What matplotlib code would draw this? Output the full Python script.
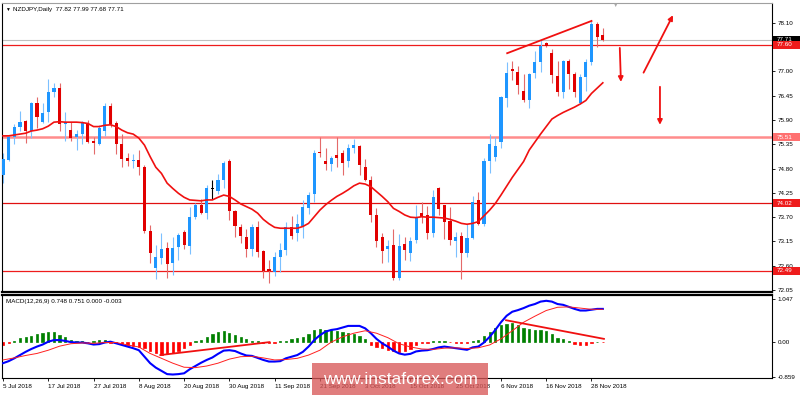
import matplotlib
matplotlib.use("Agg")
import matplotlib.pyplot as plt
import matplotlib.transforms as mtransforms
from matplotlib.patches import Rectangle
import numpy as np

plt.rcParams['font.family'] = ['Liberation Sans', 'DejaVu Sans']

# daily NZDJPY candles, 5 Jul 2018 .. 30 Nov 2018
opens = [74.66, 75.00, 75.51, 75.75, 75.88, 75.65, 76.29, 75.85, 76.07, 76.53,
         76.62, 75.80, 75.67, 75.52, 75.58, 75.82, 75.43, 75.36, 75.64, 76.22,
         75.84, 75.36, 75.03, 74.98, 74.99, 74.84, 73.39, 72.56, 72.77, 73.00,
         72.66, 73.03, 73.37, 73.05, 73.71, 73.98, 73.80, 74.34, 74.30, 74.54,
         74.96, 73.83, 73.47, 73.26, 72.99, 73.47, 72.94, 72.52, 72.47, 72.81,
         72.96, 73.47, 73.35, 73.50, 73.90, 74.22, 75.18, 74.96, 74.90, 75.10,
         75.15, 74.96, 75.26, 75.30, 74.84, 74.55, 73.74, 73.26, 72.99, 73.07,
         72.32, 73.09, 72.88, 73.18, 73.79, 73.75, 73.34, 74.37, 73.97, 73.61,
         73.15, 73.28, 72.90, 73.22, 74.09, 73.55, 74.96, 75.06, 75.39, 76.39,
         77.05, 76.99, 76.56, 76.35, 76.97, 77.22, 77.63, 77.41, 76.89, 76.54,
         77.23, 76.93, 76.29, 76.88, 77.22, 78.07, 77.82]
highs = [75.15, 75.56, 75.81, 76.10, 75.91, 76.31, 76.41, 76.28, 76.83, 76.73,
         76.73, 76.07, 75.86, 75.67, 75.88, 75.90, 75.51, 75.79, 76.28, 76.28,
         75.88, 75.58, 75.15, 75.13, 75.21, 74.88, 73.53, 73.07, 73.34, 73.13,
         73.25, 73.35, 73.40, 73.94, 74.03, 74.11, 74.43, 74.54, 74.68, 74.96,
         75.01, 73.86, 73.55, 73.43, 73.55, 73.61, 72.96, 72.72, 72.92, 73.11,
         73.59, 73.73, 73.77, 74.09, 74.28, 75.22, 75.51, 75.26, 75.09, 75.51,
         75.22, 75.35, 75.46, 75.33, 75.01, 74.63, 73.90, 73.34, 73.18, 73.43,
         73.32, 73.26, 73.26, 73.98, 74.05, 73.95, 74.32, 74.39, 73.98, 73.92,
         73.37, 73.36, 73.55, 74.17, 74.27, 75.03, 75.58, 75.51, 76.44, 77.22,
         77.24, 77.12, 76.94, 76.96, 77.45, 77.71, 77.67, 77.50, 77.23, 77.26,
         77.29, 76.99, 76.94, 77.29, 78.15, 78.11, 77.99]
lows = [74.48, 74.96, 75.36, 75.64, 75.37, 75.50, 75.71, 75.82, 75.86, 76.43,
        75.66, 75.43, 75.43, 75.22, 75.36, 75.37, 75.13, 75.33, 75.54, 75.75,
        75.12, 74.84, 74.86, 74.81, 74.66, 73.35, 72.67, 72.30, 72.64, 72.32,
        72.39, 72.73, 72.97, 72.86, 73.65, 73.77, 73.67, 74.11, 74.23, 74.35,
        73.64, 73.26, 73.11, 72.79, 72.82, 72.79, 72.32, 72.21, 72.36, 72.45,
        72.84, 73.21, 73.15, 73.22, 73.77, 74.05, 75.07, 74.77, 74.75, 74.84,
        74.66, 74.83, 75.16, 74.66, 74.51, 73.60, 73.02, 72.67, 72.69, 72.28,
        72.28, 72.72, 72.70, 73.11, 73.56, 73.20, 73.26, 73.75, 73.20, 73.07,
        72.79, 72.31, 72.79, 73.20, 73.52, 73.50, 74.71, 74.98, 75.26, 76.20,
        76.80, 76.49, 76.31, 76.18, 76.84, 76.99, 77.54, 76.74, 76.44, 76.39,
        76.60, 76.41, 76.25, 76.56, 77.14, 77.56, 77.68]
closes = [75.01, 75.51, 75.75, 75.85, 75.66, 76.29, 75.96, 76.05, 76.53, 76.62,
          75.80, 75.85, 75.50, 75.58, 75.82, 75.41, 75.37, 75.71, 76.22, 75.81,
          75.35, 75.01, 74.96, 74.99, 74.83, 73.39, 72.90, 72.79, 72.99, 72.63,
          73.00, 73.30, 73.07, 73.70, 73.98, 73.79, 74.35, 74.34, 74.53, 74.92,
          73.83, 73.50, 73.28, 72.99, 73.47, 72.92, 72.49, 72.48, 72.79, 72.96,
          73.47, 73.28, 73.54, 73.92, 74.20, 75.15, 75.16, 74.91, 75.03, 75.03,
          74.92, 75.26, 75.33, 74.87, 74.54, 73.74, 73.15, 72.94, 73.05, 72.32,
          73.05, 72.96, 73.16, 73.70, 73.70, 73.35, 74.15, 73.88, 73.60, 73.18,
          73.26, 72.90, 73.22, 74.04, 73.55, 74.97, 75.36, 75.31, 76.41, 76.96,
          77.01, 76.69, 76.34, 76.93, 77.20, 77.58, 77.57, 76.92, 76.53, 77.23,
          76.93, 76.54, 76.88, 77.22, 78.07, 77.78, 77.71]
ma = [75.54, 75.54, 75.56, 75.58, 75.60, 75.65, 75.67, 75.70, 75.76, 75.85,
      75.86, 75.85, 75.85, 75.85, 75.84, 75.82, 75.75, 75.75, 75.78, 75.79,
      75.75, 75.67, 75.61, 75.58, 75.49, 75.33, 75.07, 74.83, 74.69, 74.47,
      74.35, 74.24, 74.15, 74.09, 74.08, 74.07, 74.09, 74.09, 74.15, 74.20,
      74.17, 74.09, 74.00, 73.94, 73.88, 73.79, 73.65, 73.55, 73.47, 73.45,
      73.45, 73.45, 73.45, 73.49, 73.56, 73.71, 73.86, 73.98, 74.08, 74.17,
      74.24, 74.32, 74.41, 74.47, 74.45, 74.39, 74.28, 74.17, 74.05, 73.90,
      73.83, 73.75, 73.70, 73.69, 73.71, 73.70, 73.70, 73.69, 73.68, 73.65,
      73.61, 73.56, 73.54, 73.56, 73.60, 73.73, 73.86, 74.01, 74.20, 74.40,
      74.60, 74.78, 74.96, 75.22, 75.40, 75.58, 75.75, 75.92, 76.00, 76.07,
      76.13, 76.19, 76.26, 76.34, 76.50, 76.62, 76.74]

# MACD(12,26,9) panel
hist = [-0.08, -0.02, 0.02, 0.08, 0.11, 0.14, 0.19, 0.21, 0.23, 0.23,
        0.16, 0.11, 0.04, 0.02, 0.01, -0.01, 0.01, 0.04, 0.04, -0.02,
        -0.04, -0.06, -0.08, -0.10, -0.12, -0.16, -0.22, -0.27, -0.33, -0.30,
        -0.27, -0.22, -0.16, -0.08, 0.01, 0.04, 0.11, 0.18, 0.23, 0.26,
        0.22, 0.16, 0.11, 0.06, 0.02, 0.01, -0.03, -0.04, -0.02, 0.01,
        0.02, 0.06, 0.08, 0.12, 0.19, 0.29, 0.31, 0.30, 0.29, 0.27,
        0.25, 0.22, 0.18, 0.14, 0.06, -0.08, -0.12, -0.16, -0.21, -0.23,
        -0.25, -0.22, -0.18, -0.08, -0.03, -0.02, 0.02, 0.02, 0.01, -0.01,
        -0.02, -0.03, -0.02, 0.01, 0.03, 0.15, 0.23, 0.33, 0.41, 0.44,
        0.45, 0.42, 0.35, 0.31, 0.30, 0.29, 0.26, 0.19, 0.09, 0.06,
        0.01, -0.06, -0.07, -0.07, -0.02, 0.00, -0.003]
macd_line = [-0.53, -0.48, -0.41, -0.33, -0.25, -0.18, -0.12, -0.07, 0.00, 0.04,
             0.04, 0.02, -0.01, -0.02, -0.02, -0.04, -0.07, -0.06, -0.02, 0.00,
             -0.04, -0.08, -0.12, -0.16, -0.21, -0.37, -0.53, -0.64, -0.72, -0.80,
             -0.81, -0.80, -0.78, -0.68, -0.60, -0.52, -0.45, -0.39, -0.30, -0.22,
             -0.21, -0.23, -0.29, -0.34, -0.35, -0.40, -0.45, -0.49, -0.49, -0.48,
             -0.41, -0.37, -0.33, -0.25, -0.12, 0.04, 0.16, 0.25, 0.29, 0.31,
             0.35, 0.39, 0.39, 0.39, 0.33, 0.21, 0.07, -0.04, -0.12, -0.22,
             -0.29, -0.32, -0.30, -0.24, -0.22, -0.21, -0.18, -0.14, -0.12, -0.14,
             -0.16, -0.18, -0.20, -0.14, -0.12, -0.02, 0.12, 0.29, 0.48, 0.64,
             0.74, 0.78, 0.83, 0.89, 0.93, 0.99, 1.01, 0.99, 0.93, 0.91,
             0.86, 0.81, 0.77, 0.77, 0.79, 0.81, 0.81]
signal_idx = list(range(0, 107, 2))
signal_line = [-0.45, -0.40, -0.34, -0.29, -0.21, -0.11, -0.05, -0.03, -0.04, -0.02,
               -0.02, -0.08, -0.13, -0.29, -0.41, -0.53, -0.63, -0.64, -0.60, -0.53,
               -0.43, -0.37, -0.36, -0.40, -0.45, -0.44, -0.41, -0.33, -0.21, -0.01,
               0.12, 0.21, 0.27, 0.21, 0.10, -0.05, -0.13, -0.18, -0.19, -0.16,
               -0.15, -0.17, -0.15, -0.08, 0.07, 0.27, 0.48, 0.63, 0.77, 0.85,
               0.86, 0.83, 0.80, 0.80]

date_idx = [0, 8, 16, 24, 32, 40, 48, 56, 64, 72, 80, 88, 96, 104]
date_labels = ["5 Jul 2018", "17 Jul 2018", "27 Jul 2018", "8 Aug 2018", "20 Aug 2018",
               "30 Aug 2018", "11 Sep 2018", "21 Sep 2018", "3 Oct 2018", "15 Oct 2018",
               "25 Oct 2018", "6 Nov 2018", "16 Nov 2018", "28 Nov 2018"]
price_ticks = [72.05, 72.60, 73.15, 73.70, 74.25, 74.80, 75.35, 75.90, 76.45, 77.00, 77.55, 78.10]

# horizontal levels drawn by the analyst
levels = [77.60, 75.51, 74.02, 72.49]
level_colors = ['#ee1c1c', '#ff8c8c', '#e01010', '#ee1c1c']
level_widths = [0.9, 1.8, 0.9, 0.9]
bid = 77.71

# hand-drawn trend lines and arrows (bar index, price)
trend_x = [89.1, 104.0]
trend_y = [77.41, 78.14]
arrows = [((109.0, 77.53), (109.2, 76.76)),
          ((113.2, 76.97), (118.4, 78.27)),
          ((116.1, 76.65), (116.1, 75.79))]
macd_trends = [([27.8, 47.1], [-0.33, -0.01]), ([88.9, 106.2], [0.53, 0.07])]

BLUE = '#1e96ff'
RED = '#e10000'
FS = 4.5

fig = plt.figure(figsize=(8, 3.95), dpi=100)
fig.patch.set_facecolor('white')
W, H = 800.0, 395.0
ax = fig.add_axes([2 / W, 1 - 292 / H, 770 / W, 289 / H])
axm = fig.add_axes([2 / W, 1 - 378 / H, 770 / W, 83 / H], sharex=ax)

n = len(closes)
x = np.arange(n)
o = np.array(opens); c = np.array(closes)
body_col = np.where(c > o, BLUE, np.where(c < o, RED, 'black'))
wick_col = np.where(c > o, '#7cc0ff', np.where(c < o, '#e46a6a', 'black'))
ax.vlines(x, lows, highs, colors=wick_col, lw=0.8, zorder=2)
ax.bar(x, np.maximum(np.abs(c - o), 0.012), bottom=np.minimum(o, c), width=0.55,
       color=body_col, zorder=3, linewidth=0)
ax.plot(x, ma, color='#f01010', lw=1.2, zorder=4)

for lv, col, lw in zip(levels, level_colors, level_widths):
    ax.axhline(lv, color=col, lw=lw, zorder=1)
ax.axhline(bid, color='#c0c0c0', lw=0.8, zorder=1)

ax.plot(trend_x, trend_y, color='#f01010', lw=1.3, zorder=4)
for start, end in arrows:
    ax.annotate('', xy=end, xytext=start,
                arrowprops=dict(arrowstyle='-|>', color='#f01010', lw=1.3,
                                mutation_scale=7, shrinkA=0, shrinkB=0))

ax.set_xlim(-0.18, 135.9)
ax.set_ylim(72.007, 78.546)
ax.yaxis.tick_right()
ax.set_yticks(price_ticks)
ax.set_yticklabels([f"{t:.2f}" for t in price_ticks])
ax.tick_params(axis='y', labelsize=FS, length=2.5, width=0.6, pad=1.5)
ax.tick_params(axis='x', bottom=False, labelbottom=False)
for s in ax.spines.values():
    s.set_linewidth(0.8)
ax.spines['bottom'].set_linewidth(1.6)
ax.spines['top'].set_color('#a0a0a0')

# price boxes on the right axis
btr = mtransforms.blended_transform_factory(ax.transAxes, ax.transData)
box_h = 8 / 44.2
for lv, fc in [(bid, 'black'), (77.60, '#ee1c1c'), (75.51, '#ff7070'),
               (74.02, '#ee1c1c'), (72.49, '#ee1c1c')]:
    ax.add_patch(Rectangle((1.001, lv - box_h / 2), 0.036, box_h, transform=btr,
                           facecolor=fc, edgecolor='none', clip_on=False, zorder=5))
    ax.text(1.006, lv, f"{lv:.2f}", transform=btr, color='white', fontsize=FS,
            va='center', ha='left', zorder=6, clip_on=False)

# MACD panel
hcol = ['#008000' if h >= 0 else '#ff0000' for h in hist]
axm.bar(x, hist, width=0.4, color=hcol, edgecolor=hcol, linewidth=0.5, zorder=2)
axm.plot(x, macd_line, color='#0000ff', lw=1.5, zorder=3)
axm.plot(signal_idx, signal_line, color='#ff2020', lw=0.7, zorder=3)
for tx, ty in macd_trends:
    axm.plot(tx, ty, color='#f01010', lw=1.3, zorder=4)
axm.set_ylim(-0.896, 1.153)
axm.yaxis.tick_right()
axm.set_yticks([1.047, 0.0, -0.859])
axm.set_yticklabels(["1.047", "0.00", "-0.859"])
axm.tick_params(axis='y', labelsize=FS, length=2.5, width=0.6, pad=1.5)
axm.set_xticks(date_idx)
axm.set_xticklabels(date_labels, ha='left')
axm.tick_params(axis='x', labelsize=FS, length=2.5, width=0.6, pad=1.5)
for s in axm.spines.values():
    s.set_linewidth(0.8)
axm.spines['top'].set_linewidth(1.6)

# captions
fig.text(5 / W, 1 - 9 / H, "\u25BC", fontsize=3.5, va='center', ha='left')
fig.text(13 / W, 1 - 9 / H, "NZDJPY,Daily  77.82 77.99 77.68 77.71", fontsize=FS,
         va='center', ha='left')
fig.text(616 / W, 1 - 5 / H, "\u25BC", fontsize=4, color='#a8a8a8', va='center', ha='center')
fig.text(6 / W, 1 - 301 / H, "MACD(12,26,9) 0.748 0.751 0.000 -0.003", fontsize=FS,
         va='center', ha='left')

# watermark (semi-transparent, the dates show through as in the source)
fig.patches.append(Rectangle((312 / W, 0), 176 / W, 32 / H, transform=fig.transFigure,
                             facecolor='#d85858', alpha=0.78, edgecolor='none', zorder=10))
fig.text(400 / W, 1 - 380 / H, "www.instaforex.com", fontsize=12.5, color='white',
         ha='center', va='center', zorder=11)

fig.savefig("out.png", dpi=100, facecolor='white')
